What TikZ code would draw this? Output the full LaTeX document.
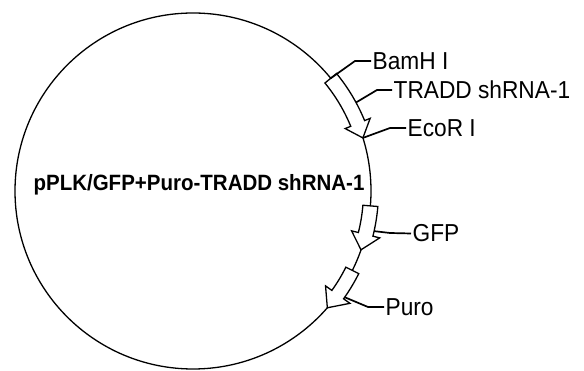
\documentclass[tikz,border=0pt]{standalone}
\usepackage{fontspec}
\setmainfont{Liberation Sans}
\usetikzlibrary{calc}
\newcommand\tallertext[1]{\scalebox{1}[1.08]{#1}}
\begin{document}
\begin{tikzpicture}[x=1pt,y=1pt,line width=1.3pt,
  feat/.style={draw=black,fill=white,line join=miter},
  lbl/.style={anchor=west,inner sep=1pt,font=\fontsize{22.7}{23}\selectfont},
  lead/.style={draw=black,line width=1.7pt},
  title/.style={font=\fontsize{20.5}{20.5}\selectfont\bfseries,inner sep=0pt}]
\useasboundingbox (0,0) rectangle (584,371);
\def\R{178}
\coordinate (C) at (193,180);
\draw (C) circle[radius=\R];
\node[title] (name) at (199,186) {\tallertext{pPLK/GFP+Puro-TRADD shRNA-1}};
% feature arrows: #1 name, #2 tail angle, #3 head base angle, #4 tip angle, #5 body half width, #6 head half width
\newcommand\featarrow[6]{%
  \draw[feat] ({#2}:{\R+#5}) arc[start angle=#2,end angle=#3,radius=\R+#5]
    -- ({#3}:{\R+#6}) -- ({#4}:{\R}) coordinate (#1tip) -- ({#3}:{\R-#6})
    -- ({#3}:{\R-#5}) arc[start angle=#3,end angle=#2,radius=\R-#5] -- cycle;}
\begin{scope}[shift={(C)}]
  \featarrow{tradd}{39.3}{22.3}{17.35}{7.5}{13.5}
  \featarrow{gfp}{-4.8}{-14.1}{-19.3}{7.5}{14.5}
  \featarrow{puro}{-26.5}{-35.6}{-41}{7.2}{15}
  \coordinate (bamhpt) at (39.3:\R);
  \coordinate (traddpt) at (28.5:{\R+7.5});
  \coordinate (gfppt) at (-12.5:{\R+7.5});
  \coordinate (puropt) at (-35:{\R+7.2});
\end{scope}
\node[lbl] (bamh) at (371,310) {\tallertext{BamH I}};
\node[lbl] (tradd) at (392,281) {\tallertext{TRADD shRNA-1}};
\node[lbl] (ecor) at (406,243) {\tallertext{EcoR I}};
\node[lbl] (gfp) at (411,137.5) {\tallertext{GFP}};
\node[lbl] (puro) at (384,64) {\tallertext{Puro}};
\coordinate (bamhb) at (355,310);
\coordinate (traddb) at (377,281);
\coordinate (ecorb) at (390,243);
\coordinate (gfpb) at (390,138);
\coordinate (purob) at (368,64);
\draw[lead] (bamhpt) -- (bamhb) -- (bamh.west);
\draw[lead] (traddpt) -- (traddb) -- (tradd.west);
\draw[lead] (traddtip) -- (ecorb) -- (ecor.west);
\draw[lead] (gfppt) -- (gfpb) -- (gfp.west);
\draw[lead] (puropt) -- (purob) -- (puro.west);
\end{tikzpicture}
\end{document}
